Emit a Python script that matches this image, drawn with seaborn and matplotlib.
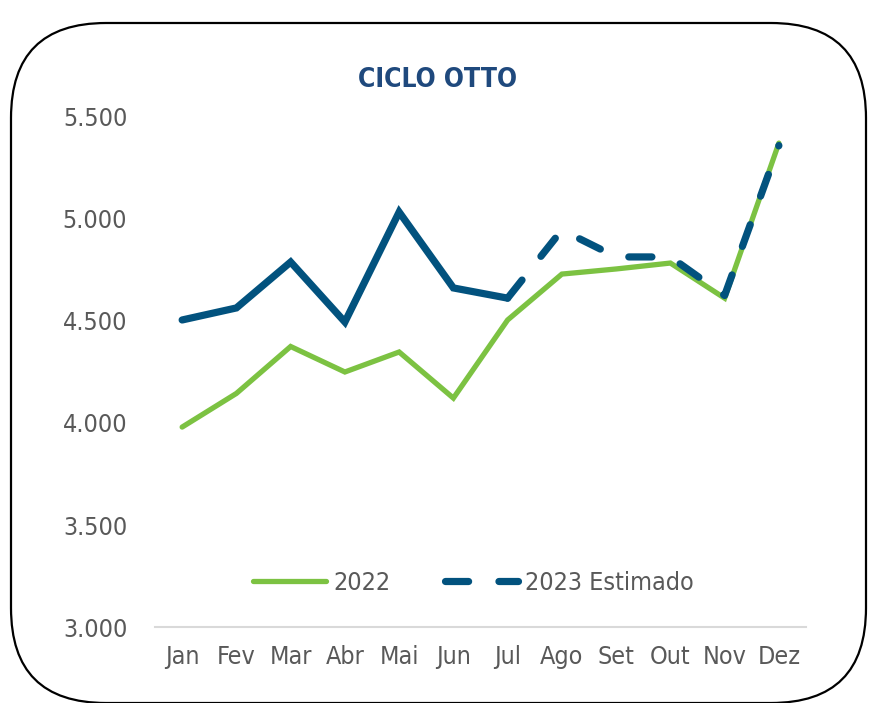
import numpy as np
import pandas as pd
import matplotlib
matplotlib.use("Agg")
import matplotlib.pyplot as plt
import seaborn as sns
from matplotlib.lines import Line2D
from matplotlib.patches import FancyBboxPatch
from matplotlib.ticker import FuncFormatter

MESES = ["Jan", "Fev", "Mar", "Abr", "Mai", "Jun", "Jul", "Ago", "Set", "Out", "Nov", "Dez"]
VALORES_2022 = [3980, 4145, 4375, 4250, 4348, 4122, 4505, 4730, 4755, 4784, 4612, 5372]
MESES_2023_REAL = ["Jan", "Fev", "Mar", "Abr", "Mai", "Jun", "Jul"]
VALORES_2023_REAL = [4505, 4564, 4789, 4495, 5034, 4662, 4612]
MESES_2023_EST = ["Jul", "Ago", "Set", "Out", "Nov", "Dez"]
VALORES_2023_EST = [4612, 4946, 4814, 4814, 4625, 5360]

VERDE = "#7CC242"
AZUL = "#02527E"
CINZA = "#595959"
TITULO_COR = "#1F497D"

sns.set_theme(style="white")
plt.rcParams["font.family"] = ["DejaVu Sans"]
plt.rcParams["font.stretch"] = "condensed"

pos = {m: i for i, m in enumerate(MESES)}
df22 = pd.DataFrame({"x": [pos[m] for m in MESES], "y": VALORES_2022})
df23r = pd.DataFrame({"x": [pos[m] for m in MESES_2023_REAL], "y": VALORES_2023_REAL})
df23e = pd.DataFrame({"x": [pos[m] for m in MESES_2023_EST], "y": VALORES_2023_EST})

fig = plt.figure(figsize=(8.69, 7.03), dpi=100)

# moldura arredondada (coordenadas em pixels)
bg = fig.add_axes([0, 0, 1, 1])
bg.set_xlim(0, 869)
bg.set_ylim(703, 0)
bg.axis("off")
bg.add_patch(FancyBboxPatch((11, 23), 855, 680,
                            boxstyle="round,pad=0,rounding_size=95",
                            fc="white", ec="black", lw=1.6))

ax = fig.add_axes([0.1784, 0.1081, 0.7491, 0.7255])
ax.patch.set_alpha(0)

sns.lineplot(data=df22, x="x", y="y", ax=ax, color=VERDE, lw=3.8,
             solid_capstyle="round", solid_joinstyle="miter", sort=False)
sns.lineplot(data=df23r, x="x", y="y", ax=ax, color=AZUL, lw=5.2,
             solid_capstyle="round", solid_joinstyle="miter", sort=False)
sns.lineplot(data=df23e, x="x", y="y", ax=ax, color=AZUL, lw=5.2,
             linestyle=(0, (3.2, 4.2)), dash_capstyle="round", sort=False)

ax.set_xlim(-0.5, 11.5)
ax.set_ylim(3000, 5500)
ax.set_yticks(np.arange(3000, 5501, 500))
ax.yaxis.set_major_formatter(FuncFormatter(lambda v, p: f"{int(v):,}".replace(",", ".")))
ax.set_xticks(range(len(MESES)))
ax.set_xticklabels(MESES)
ax.set_xlabel("")
ax.set_ylabel("")
ax.tick_params(axis="both", length=0, labelsize=18, colors=CINZA)
ax.tick_params(axis="y", pad=20)
ax.tick_params(axis="x", pad=13)
for s in ["top", "right", "left"]:
    ax.spines[s].set_visible(False)
ax.spines["bottom"].set_color("#D9D9D9")
ax.spines["bottom"].set_linewidth(1.5)
ax.grid(False)

fig.text(0.503, 0.886, "CICLO OTTO", ha="center", va="center", fontsize=19,
         fontweight="bold", color=TITULO_COR)

handles = [
    Line2D([], [], color=VERDE, lw=3.8, solid_capstyle="round"),
    Line2D([], [], color=AZUL, lw=5.2, linestyle=(0, (3.2, 4.2)), dash_capstyle="round"),
]
leg = fig.legend(handles, ["2022", "2023 Estimado"], loc="center",
                 bbox_to_anchor=(0.545, 0.171), ncol=2, frameon=False,
                 fontsize=18, handlelength=2.9, handletextpad=0.3, columnspacing=2.2)
for t in leg.get_texts():
    t.set_color(CINZA)

fig.savefig("out.png", dpi=100)
